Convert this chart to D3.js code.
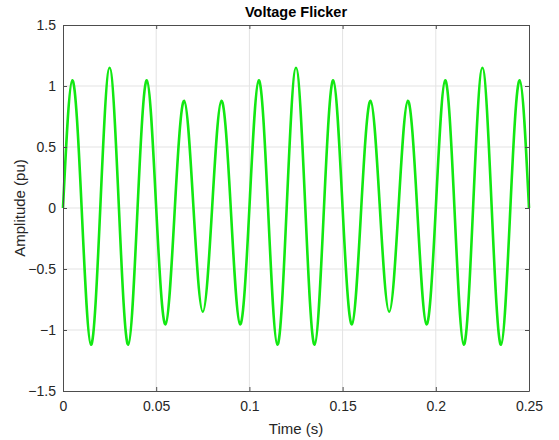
<!DOCTYPE html>
<html>
<head>
<meta charset="utf-8">
<script src="https://cdn.jsdelivr.net/npm/d3@7"></script>
<style>
  body { margin: 0; background: #fff; }
  text { font-family: "Liberation Sans", Arial, sans-serif; }
</style>
</head>
<body>
<div id="chart"></div>
<script>
// waveform knots: zero crossings and peaks/troughs, every quarter cycle (50 Hz)
var times = [0, 0.005, 0.01, 0.015, 0.02, 0.025, 0.03, 0.035, 0.04, 0.045,
             0.05, 0.055, 0.06, 0.065, 0.07, 0.075, 0.08, 0.085, 0.09, 0.095,
             0.1, 0.105, 0.11, 0.115, 0.12, 0.125, 0.13, 0.135, 0.14, 0.145,
             0.15, 0.155, 0.16, 0.165, 0.17, 0.175, 0.18, 0.185, 0.19, 0.195,
             0.2, 0.205, 0.21, 0.215, 0.22, 0.225, 0.23, 0.235, 0.24, 0.245, 0.25];
var amplitude = [0, 1.046, 0, -1.121, 0, 1.15, 0, -1.121, 0, 1.046,
                 0, -0.954, 0, 0.879, 0, -0.85, 0, 0.879, 0, -0.954,
                 0, 1.046, 0, -1.121, 0, 1.15, 0, -1.121, 0, 1.046,
                 0, -0.954, 0, 0.879, 0, -0.85, 0, 0.879, 0, -0.954,
                 0, 1.046, 0, -1.121, 0, 1.15, 0, -1.121, 0, 1.046, 0];

var xTicks = [0, 0.05, 0.1, 0.15, 0.2, 0.25];
var yTicks = [-1.5, -1, -0.5, 0, 0.5, 1, 1.5];

var WIDTH = 559, HEIGHT = 440;
var MARGIN = {left: 63, right: 30, top: 25, bottom: 49};

var svg = d3.select("#chart").append("svg")
    .attr("width", WIDTH)
    .attr("height", HEIGHT);

var plotW = WIDTH - MARGIN.left - MARGIN.right,
    plotH = HEIGHT - MARGIN.top - MARGIN.bottom;

var x = d3.scaleLinear().domain([0, 0.25]).range([0, plotW]);
var y = d3.scaleLinear().domain([-1.5, 1.5]).range([plotH, 0]);

var g = svg.append("g")
    .attr("transform", "translate(" + MARGIN.left + "," + MARGIN.top + ")");

// grid
g.selectAll(".gx").data(xTicks.slice(1, -1)).enter().append("line")
    .attr("x1", function(d){ return x(d); }).attr("x2", function(d){ return x(d); })
    .attr("y1", 0).attr("y2", plotH)
    .attr("stroke", "#e3e3e3").attr("stroke-width", 1);
g.selectAll(".gy").data(yTicks.slice(1, -1)).enter().append("line")
    .attr("x1", 0).attr("x2", plotW)
    .attr("y1", function(d){ return y(d); }).attr("y2", function(d){ return y(d); })
    .attr("stroke", "#e3e3e3").attr("stroke-width", 1);

// the signal
var line = d3.line()
    .x(function(d){ return x(d[0]); })
    .y(function(d){ return y(d[1]); })
    .curve(d3.curveNatural);

g.append("path")
    .datum(d3.zip(times, amplitude))
    .attr("fill", "none")
    .attr("stroke", "#12e812")
    .attr("stroke-width", 2.6)
    .attr("stroke-linejoin", "round")
    .attr("d", line);

// axes, with a box and inward ticks like matlab
var axisColor = "#4d4d4d";
function styleAxis(sel) {
    sel.select(".domain").attr("stroke", axisColor);
    sel.selectAll(".tick line").attr("stroke", axisColor);
    sel.selectAll(".tick text").attr("fill", "#262626")
        .style("font-size", "14px");
}

var fmt = function(d){ return d3.format("")(d); };

g.append("g").attr("transform", "translate(0," + plotH + ")")
    .call(d3.axisBottom(x).tickValues(xTicks).tickFormat(fmt).tickSizeInner(-4).tickSizeOuter(0).tickPadding(10))
    .call(styleAxis);
g.append("g")
    .call(d3.axisLeft(y).tickValues(yTicks).tickFormat(fmt).tickSizeInner(-4).tickSizeOuter(0).tickPadding(7))
    .call(styleAxis);
g.append("g")
    .call(d3.axisTop(x).tickValues(xTicks).tickFormat("").tickSizeInner(-4).tickSizeOuter(0))
    .call(styleAxis);
g.append("g").attr("transform", "translate(" + plotW + ",0)")
    .call(d3.axisRight(y).tickValues(yTicks).tickFormat("").tickSizeInner(-4).tickSizeOuter(0))
    .call(styleAxis);

svg.selectAll(".domain").attr("stroke-width", 1);

// labels
svg.append("text")
    .attr("x", MARGIN.left + plotW / 2).attr("y", 17)
    .attr("text-anchor", "middle")
    .style("font-size", "14.5px").style("font-weight", "bold")
    .attr("fill", "#000")
    .text("Voltage Flicker");

svg.append("text")
    .attr("x", MARGIN.left + plotW / 2).attr("y", 434)
    .attr("text-anchor", "middle")
    .style("font-size", "15px")
    .attr("fill", "#262626")
    .text("Time (s)");

svg.append("text")
    .attr("transform", "translate(25," + (MARGIN.top + plotH / 2) + ") rotate(-90)")
    .attr("text-anchor", "middle")
    .style("font-size", "15px")
    .attr("fill", "#262626")
    .text("Amplitude (pu)");
</script>
</body>
</html>
